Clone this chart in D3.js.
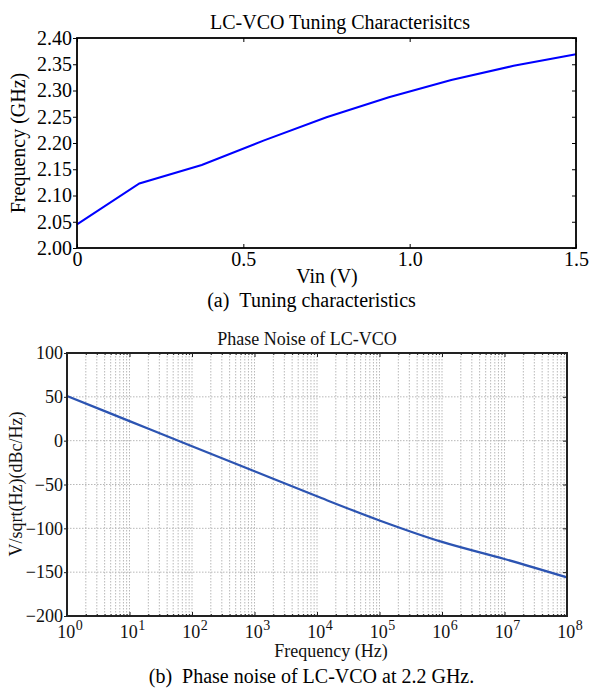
<!DOCTYPE html>
<html>
<head>
<meta charset="utf-8">
<script src="https://cdn.jsdelivr.net/npm/d3@7"></script>
<style>
  body { margin: 0; background: #fff; }
  svg { display: block; font-family: "Liberation Serif", "Times New Roman", serif; }
</style>
</head>
<body>
<svg id="chart" width="591" height="688"></svg>
<script>
// (a) tuning characteristics
const vinValues = [0, 0.1875, 0.375, 0.5625, 0.75, 0.9375, 1.125, 1.3125, 1.5];
const freqGHz   = [2.045, 2.123, 2.158, 2.205, 2.249, 2.287, 2.320, 2.347, 2.369];
const vinTicks = [0, 0.5, 1.0, 1.5];
const vinTickLabels = ['0', '0.5', '1.0', '1.5'];
const freqTicks = [2.00, 2.05, 2.10, 2.15, 2.20, 2.25, 2.30, 2.35, 2.40];

// (b) phase noise
const offsetHz   = [1e0, 1e1, 1e2, 1e3, 1e4, 1e5, 1e6, 1e7, 1e8];
const noiseValues = [51, 22.3, -6.4, -35, -63.5, -91, -115.5, -135, -156];
const offsetExps = [0, 1, 2, 3, 4, 5, 6, 7, 8];
const noiseTicks = [100, 50, 0, -50, -100, -150, -200];

const SERIF = '"Liberation Serif", "Times New Roman", serif';
const svg = d3.select('#chart');

/* ---------- top panel ---------- */
const xT = d3.scaleLinear().domain([0, 1.5]).range([77, 576]);
const yT = d3.scaleLinear().domain([2.0, 2.4]).range([248, 38]);
const panelA = svg.append('g');

panelA.append('path')
  .datum(vinValues.map((v, i) => [v, freqGHz[i]]))
  .attr('fill', 'none')
  .attr('stroke', '#0000ff')
  .attr('stroke-width', 2)
  .attr('d', d3.line().x(d => xT(d[0])).y(d => yT(d[1])));

// bottom axis (ticks inward)
const xAxisT = panelA.append('g').attr('transform', 'translate(0,248)')
  .call(d3.axisBottom(xT).tickValues(vinTicks)
    .tickFormat((d, i) => vinTickLabels[i]).tickSize(-4).tickPadding(4));
// top axis, no labels
const xAxisT2 = panelA.append('g').attr('transform', 'translate(0,38)')
  .call(d3.axisTop(xT).tickValues(vinTicks).tickFormat('').tickSize(-4));
// left axis (ticks outward)
const yAxisT = panelA.append('g').attr('transform', 'translate(77,0)')
  .call(d3.axisLeft(yT).tickValues(freqTicks)
    .tickFormat(d3.format('.2f')).tickSize(4).tickPadding(1));
// right axis, no labels
const yAxisT2 = panelA.append('g').attr('transform', 'translate(576,0)')
  .call(d3.axisRight(yT).tickValues(freqTicks).tickFormat('').tickSize(-4));

[xAxisT, xAxisT2, yAxisT, yAxisT2].forEach(a => {
  a.attr('font-family', SERIF).attr('font-size', 20);
  a.select('.domain').remove();
  a.selectAll('line').attr('stroke', '#000').attr('stroke-width', 1);
  a.selectAll('text').attr('fill', '#000').style('font-family', SERIF);
});

panelA.append('rect')
  .attr('x', 77).attr('y', 38).attr('width', 576 - 77).attr('height', 248 - 38)
  .attr('fill', 'none').attr('stroke', '#000').attr('stroke-width', 1.8);

panelA.append('text').attr('x', 340).attr('y', 29).attr('text-anchor', 'middle')
  .attr('font-size', 20).text('LC-VCO Tuning Characterisitcs');
panelA.append('text').attr('x', 327).attr('y', 283).attr('text-anchor', 'middle')
  .attr('font-size', 20).text('Vin (V)');
panelA.append('text').attr('transform', 'translate(25,143) rotate(-90)')
  .attr('text-anchor', 'middle').attr('font-size', 20).text('Frequency (GHz)');
panelA.append('text').attr('x', 311.5).attr('y', 307).attr('text-anchor', 'middle')
  .attr('font-size', 20).text('(a)\u2002Tuning characteristics');

/* ---------- bottom panel ---------- */
const xB = d3.scaleLog().domain([1, 1e8]).range([67, 567]);
const yB = d3.scaleLinear().domain([-200, 100]).range([616, 353]);
const panelB = svg.append('g');

const minorTicks = [];
for (let e = 0; e < 8; e++) {
  for (let k = 2; k <= 9; k++) minorTicks.push(k * Math.pow(10, e));
}
const majorTicks = offsetExps.map(e => Math.pow(10, e));

// grid
const grid = panelB.append('g')
  .attr('stroke', '#b8b8b8').attr('stroke-width', 1).attr('stroke-dasharray', '1.5,1.5');
grid.selectAll('line.v')
  .data(minorTicks.concat(majorTicks.slice(1, -1)))
  .join('line').attr('class', 'v')
  .attr('x1', d => xB(d)).attr('x2', d => xB(d))
  .attr('y1', yB(100)).attr('y2', yB(-200));
grid.selectAll('line.h')
  .data(noiseTicks.slice(1, -1))
  .join('line').attr('class', 'h')
  .attr('x1', xB(1)).attr('x2', xB(1e8))
  .attr('y1', d => yB(d)).attr('y2', d => yB(d));

panelB.append('path')
  .datum(offsetHz.map((f, i) => [f, noiseValues[i]]))
  .attr('fill', 'none')
  .attr('stroke', '#2c54b2')
  .attr('stroke-width', 2.2)
  .attr('d', d3.line().curve(d3.curveMonotoneX).x(d => xB(d[0])).y(d => yB(d[1])));

// tick marks, inward on bottom / top / right, outward on left
const axes = [];
axes.push(panelB.append('g').attr('transform', 'translate(0,616)')
  .call(d3.axisBottom(xB).tickValues(majorTicks).tickFormat('').tickSize(-4)));
axes.push(panelB.append('g').attr('transform', 'translate(0,616)')
  .call(d3.axisBottom(xB).tickValues(minorTicks).tickFormat('').tickSize(-2)));
axes.push(panelB.append('g').attr('transform', 'translate(0,353)')
  .call(d3.axisTop(xB).tickValues(majorTicks).tickFormat('').tickSize(-4)));
axes.push(panelB.append('g').attr('transform', 'translate(0,353)')
  .call(d3.axisTop(xB).tickValues(minorTicks).tickFormat('').tickSize(-2)));
axes.push(panelB.append('g').attr('transform', 'translate(567,0)')
  .call(d3.axisRight(yB).tickValues(noiseTicks).tickFormat('').tickSize(-4)));
const yAxisB = panelB.append('g').attr('transform', 'translate(67,0)')
  .call(d3.axisLeft(yB).tickValues(noiseTicks).tickFormat(d3.format('d'))
    .tickSize(3).tickPadding(1));
axes.push(yAxisB);
axes.forEach(a => {
  a.attr('font-family', SERIF).attr('font-size', 18);
  a.select('.domain').remove();
  a.selectAll('line').attr('stroke', '#222').attr('stroke-width', 1);
  a.selectAll('text').attr('fill', '#111').style('font-family', SERIF);
});

// x tick labels as 10^n
const xLab = panelB.append('g').attr('font-size', 18).attr('fill', '#111');
const lab = xLab.selectAll('text').data(offsetExps).join('text')
  .attr('x', d => xB(Math.pow(10, d)) + 3)
  .attr('y', 638)
  .attr('text-anchor', 'middle');
lab.append('tspan').text('10');
lab.append('tspan').attr('font-size', 14).attr('dx', 0.5).attr('dy', -8).text(d => d);

panelB.append('rect')
  .attr('x', 67).attr('y', 353).attr('width', 567 - 67).attr('height', 616 - 353)
  .attr('fill', 'none').attr('stroke', '#222').attr('stroke-width', 2);

panelB.append('text').attr('x', 307).attr('y', 345).attr('text-anchor', 'middle')
  .attr('font-size', 18).attr('fill', '#111').text('Phase Noise of LC-VCO');
panelB.append('text').attr('x', 331).attr('y', 657).attr('text-anchor', 'middle')
  .attr('font-size', 18).attr('fill', '#111').text('Frequency (Hz)');
panelB.append('text').attr('transform', 'translate(22,484) rotate(-90)')
  .attr('text-anchor', 'middle').attr('font-size', 18).attr('fill', '#111')
  .text('V/sqrt(Hz)(dBc/Hz)');
panelB.append('text').attr('x', 311.5).attr('y', 683).attr('text-anchor', 'middle')
  .attr('font-size', 20).text('(b)\u2002Phase noise of LC-VCO at 2.2 GHz.');
</script>
</body>
</html>
